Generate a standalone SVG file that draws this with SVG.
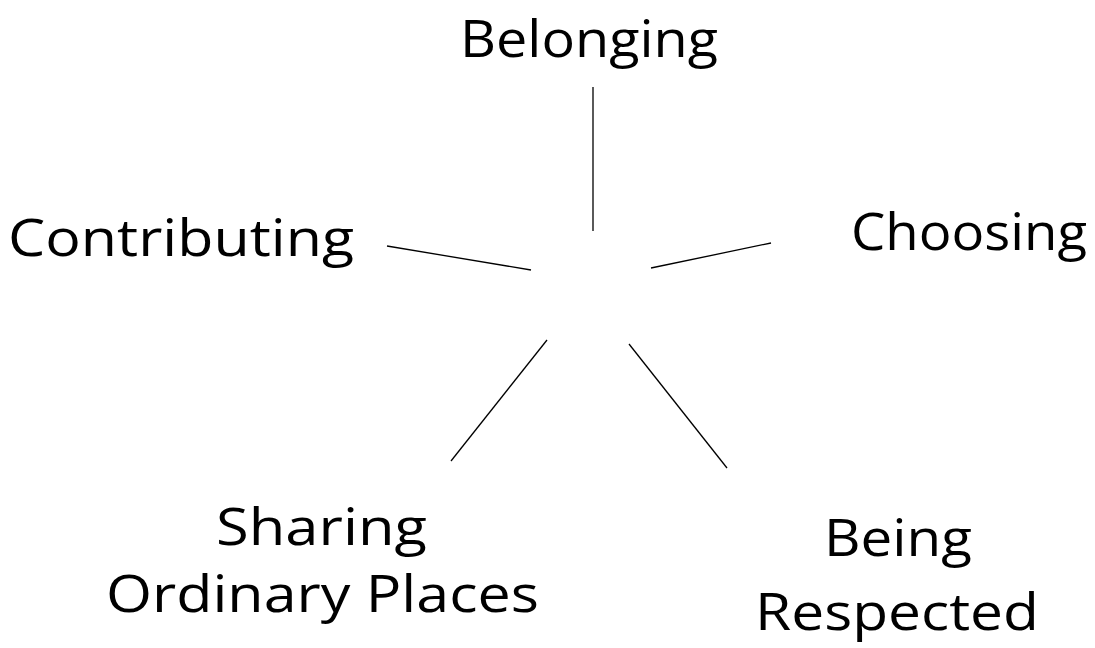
<svg xmlns="http://www.w3.org/2000/svg" width="1095" height="648" viewBox="0 0 1095 648">
<style>
text{font-family:"Open Sans","DejaVu Sans",sans-serif;font-size:52px;fill:#000}
.c line{stroke:#000;stroke-width:1.3}
</style>
<rect width="1095" height="648" fill="#fff"/>
<g class="c" id="connectors">
<line x1="593" y1="87" x2="593" y2="231"/>
<line x1="387" y1="246" x2="531" y2="270"/>
<line x1="651" y1="268" x2="771" y2="243"/>
<line x1="547" y1="340" x2="451" y2="461"/>
<line x1="629" y1="344" x2="727" y2="468"/>
</g>
<g id="belonging"><text x="460" y="57" textLength="258" lengthAdjust="spacingAndGlyphs">Belonging</text></g>
<g id="contributing"><text x="8" y="256" textLength="346" lengthAdjust="spacingAndGlyphs">Contributing</text></g>
<g id="choosing"><text x="851" y="250" textLength="236" lengthAdjust="spacingAndGlyphs">Choosing</text></g>
<g id="sharing"><text x="216" y="545" textLength="211" lengthAdjust="spacingAndGlyphs">Sharing</text><text x="106" y="612" textLength="433" lengthAdjust="spacingAndGlyphs">Ordinary Places</text></g>
<g id="respected"><text x="824" y="556" textLength="148" lengthAdjust="spacingAndGlyphs">Being</text><text x="755" y="630" textLength="284" lengthAdjust="spacingAndGlyphs">Respected</text></g>
</svg>
